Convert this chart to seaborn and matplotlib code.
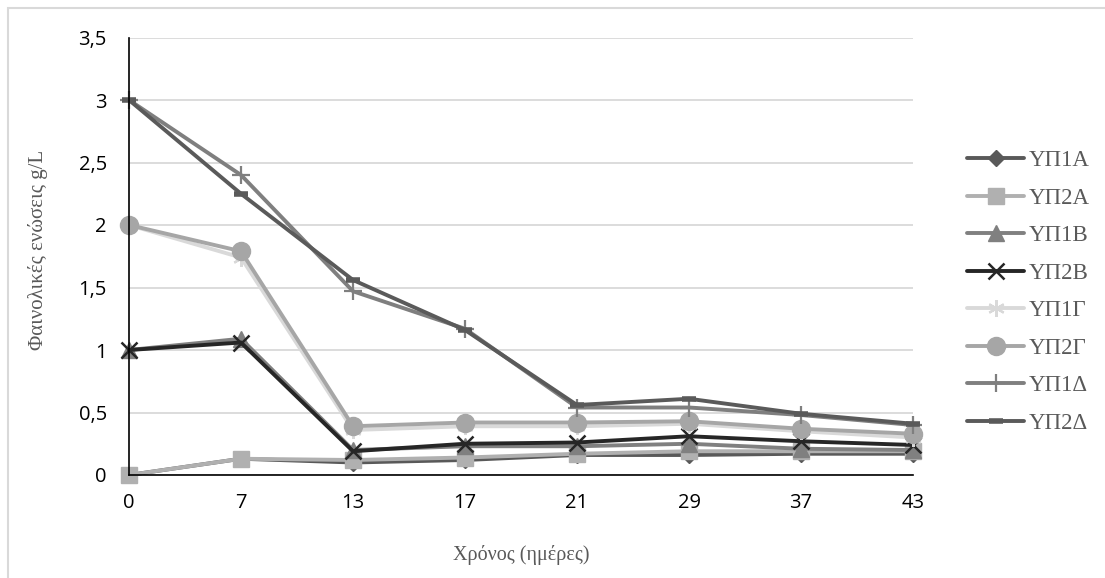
import numpy as np
import pandas as pd
import matplotlib
matplotlib.use("Agg")
import matplotlib.pyplot as plt
import seaborn as sns
from matplotlib.patches import Rectangle

# ---- data ----
days = ["0", "7", "13", "17", "21", "29", "37", "43"]
series_names = ["ΥΠ1Α", "ΥΠ2Α", "ΥΠ1Β", "ΥΠ2Β", "ΥΠ1Γ", "ΥΠ2Γ", "ΥΠ1Δ", "ΥΠ2Δ"]
yp1a = [0, 0.13, 0.10, 0.12, 0.16, 0.16, 0.17, 0.17]
yp2a = [0, 0.13, 0.12, 0.14, 0.17, 0.19, 0.19, 0.19]
yp1b = [1, 1.09, 0.20, 0.23, 0.23, 0.25, 0.21, 0.20]
yp2b = [1, 1.06, 0.19, 0.25, 0.26, 0.31, 0.27, 0.24]
yp1g = [2, 1.74, 0.36, 0.39, 0.39, 0.41, 0.35, 0.30]
yp2g = [2, 1.79, 0.39, 0.42, 0.42, 0.43, 0.37, 0.33]
yp1d = [3, 2.40, 1.47, 1.17, 0.54, 0.54, 0.48, 0.40]
yp2d = [3, 2.25, 1.56, 1.16, 0.56, 0.61, 0.49, 0.41]
values = [yp1a, yp2a, yp1b, yp2b, yp1g, yp2g, yp1d, yp2d]
y_ticks = [0, 0.5, 1, 1.5, 2, 2.5, 3, 3.5]
y_tick_labels = ["0", "0,5", "1", "1,5", "2", "2,5", "3", "3,5"]

# ---- styles ----
colors = ["#595959", "#b0b0b0", "#808080", "#262626", "#d9d9d9", "#a6a6a6", "#7f7f7f", "#5a5a5a"]
markers = ["D", "s", "^", "x", (6, 2, 0), "o", "+", "_"]
msizes = [8, 12, 11, 12, 12, 13, 13, 10]
mews = [1, 1, 1, 1.8, 1.6, 1, 1.6, 4]

sns.set_theme(style="white")
plt.rcParams["font.family"] = ["Open Sans", "DejaVu Sans"]

fig = plt.figure(figsize=(11.05, 5.78), dpi=100)
ax = fig.add_axes([129 / 1105, 1 - 475 / 578, (913 - 129) / 1105, (475 - 37.5) / 578])

handles = []
for name, vals, c, m, ms, mew in zip(series_names, values, colors, markers, msizes, mews):
    df = pd.DataFrame({"day": days, "val": vals})
    sns.pointplot(data=df, x="day", y="val", order=days, color=c, marker=m,
                  markersize=ms, markeredgewidth=mew, linewidth=2.8,
                  errorbar=None, ax=ax, clip_on=False)
    line = ax.lines[-1]
    line.set_markerfacecolor(c)
    line.set_markeredgecolor(c)
    line.set_label(name)
    handles.append(line)

if ax.get_legend() is not None:
    ax.get_legend().remove()

ax.set_xlim(0, len(days) - 1)
ax.set_ylim(0, 3.5)
ax.set_yticks(y_ticks)
ax.set_yticklabels(y_tick_labels)
ax.yaxis.grid(True, color="#d9d9d9", linewidth=1.3)
ax.xaxis.grid(False)
ax.set_axisbelow(True)
for s in ["top", "right"]:
    ax.spines[s].set_visible(False)
for s in ["left", "bottom"]:
    ax.spines[s].set_color("black")
    ax.spines[s].set_linewidth(1.2)
ax.tick_params(axis="y", length=0, pad=16, labelsize=14.5, labelcolor="black")
ax.tick_params(axis="x", length=0, pad=13, labelsize=14.5, labelcolor="black")
ax.set_xlabel("")
ax.set_ylabel("")

serif = ["Liberation Serif", "DejaVu Serif"]
fig.text(521 / 1105, 1 - 555 / 578, "Χρόνος (ημέρες)", ha="center", va="center",
         fontsize=14.5, color="#595959", family=serif)
fig.text(38 / 1105, 1 - 250 / 578, "Φαινολικές ενώσεις g/L", ha="center", va="center",
         rotation=90, fontsize=15, color="#595959", family=serif)

leg = fig.legend(handles=handles, labels=series_names, loc="center left",
                 bbox_to_anchor=(967 / 1105, 1 - 292 / 578), frameon=False,
                 borderpad=0, borderaxespad=0, handlelength=2.5, handletextpad=0.2,
                 labelspacing=0.72, numpoints=1, prop={"family": serif, "size": 16.5})
for t in leg.get_texts():
    t.set_color("#595959")

# chart outer border
fig.patches.append(Rectangle((8 / 1105, -0.05), 1.2, 1 - 8 / 578 + 0.05,
                             transform=fig.transFigure, fill=False,
                             edgecolor="#d9d9d9", linewidth=1.5))

fig.savefig("out.png", dpi=100)
